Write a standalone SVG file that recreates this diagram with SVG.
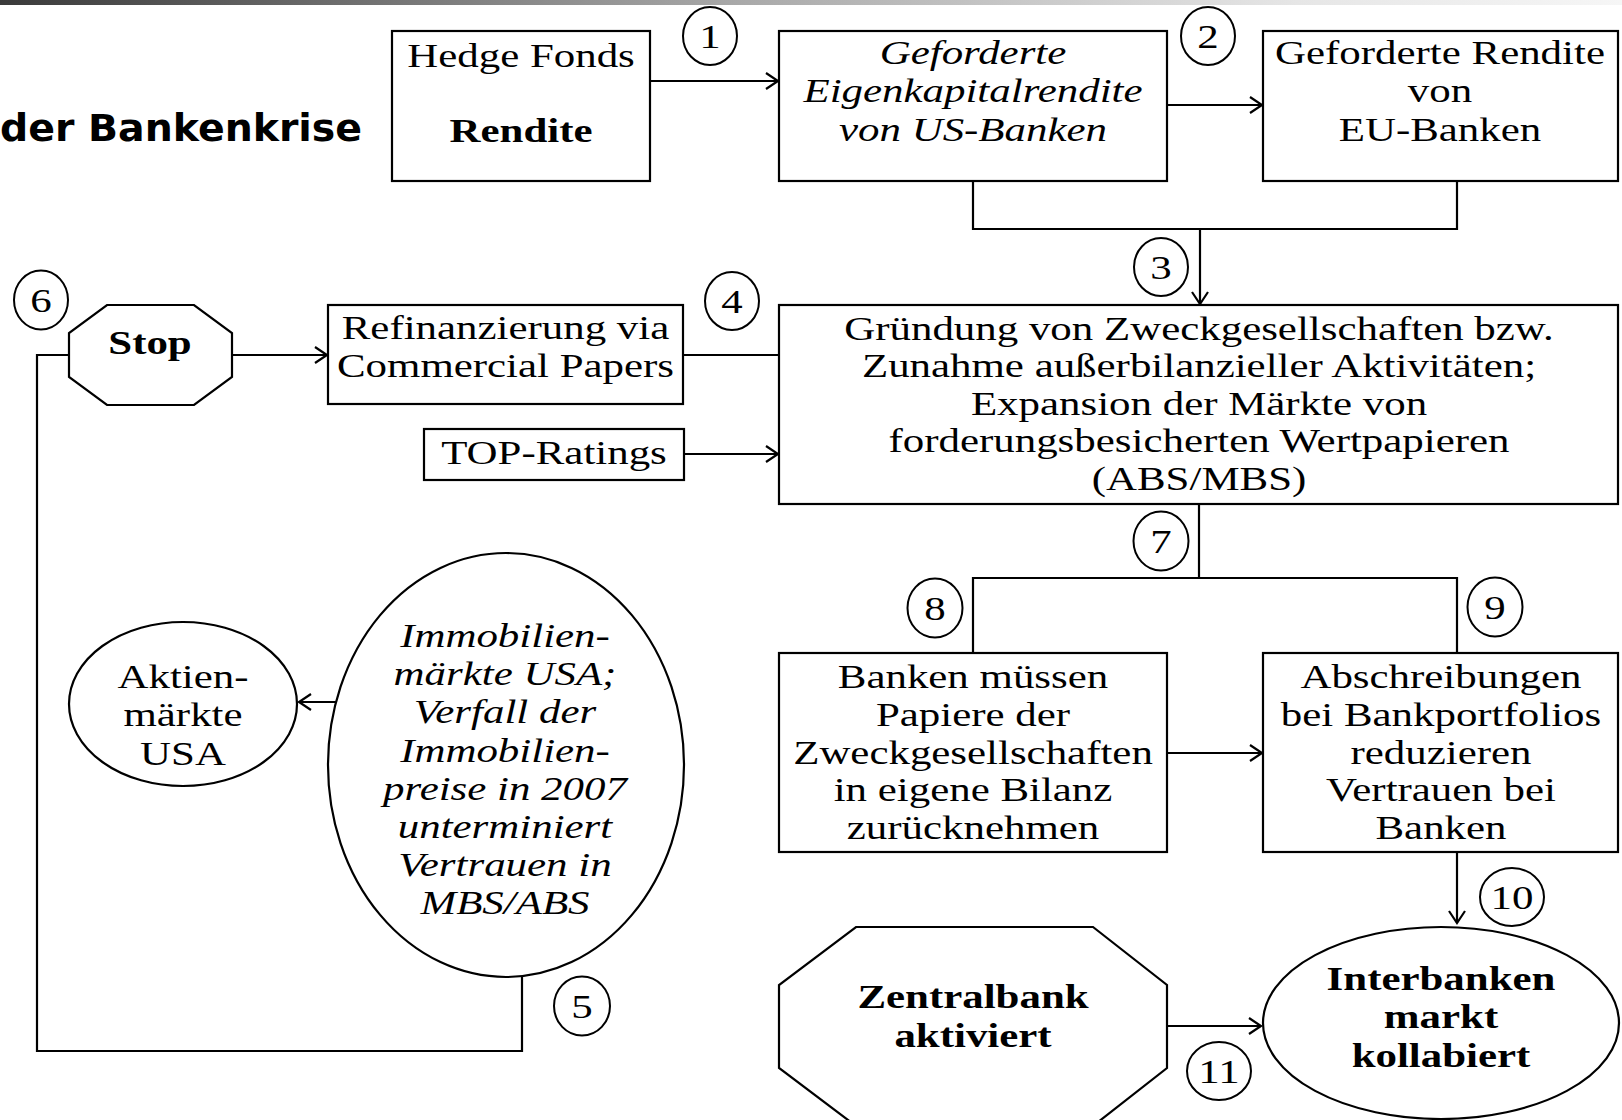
<svg xmlns="http://www.w3.org/2000/svg" width="1622" height="1120" viewBox="0 0 1622 1120">
  <defs>
    <linearGradient id="barGrad" x1="0" y1="0" x2="1" y2="0">
      <stop offset="0" stop-color="#3a3a3a"/>
      <stop offset="0.45" stop-color="#a8a8a8"/>
      <stop offset="0.8" stop-color="#e6e6e6"/>
      <stop offset="1" stop-color="#f6f6f6"/>
    </linearGradient>
    <marker id="arrow" markerUnits="userSpaceOnUse" markerWidth="16" markerHeight="18" refX="13" refY="9" orient="auto">
      <path d="M1,1 L13,9 L1,17" fill="none" stroke="#000" stroke-width="2.2"/>
    </marker>
  </defs>
  <style>
    .box { fill: #fff; stroke: #000; stroke-width: 2.2; }
    .num { fill: #fff; stroke: #000; stroke-width: 2; }
    .link { fill: none; stroke: #000; stroke-width: 2.2; }
    .t { font-family: "Liberation Serif", "Times New Roman", serif; font-size: 33px; fill: #000; text-anchor: middle; }
    .i { font-style: italic; }
    .b { font-weight: bold; }
    .title { font-family: "DejaVu Sans", Verdana, sans-serif; font-weight: bold; font-size: 37px; fill: #000; }
  </style>

  <rect x="0" y="0" width="1622" height="5" fill="url(#barGrad)"/>
  <text class="title" x="0" y="141" textLength="362" lengthAdjust="spacingAndGlyphs">der Bankenkrise</text>

  <!-- connectors -->
  <g id="connectors">
    <line class="link" x1="650" y1="81" x2="778" y2="81" marker-end="url(#arrow)"/>
    <line class="link" x1="1167" y1="105" x2="1262" y2="105" marker-end="url(#arrow)"/>
    <polyline class="link" points="973,181 973,229 1457,229 1457,181"/>
    <line class="link" x1="1200" y1="229" x2="1200" y2="304" marker-end="url(#arrow)"/>
    <line class="link" x1="232" y1="355" x2="327" y2="355" marker-end="url(#arrow)"/>
    <line class="link" x1="683" y1="355" x2="779" y2="355"/>
    <line class="link" x1="684" y1="454" x2="778" y2="454" marker-end="url(#arrow)"/>
    <polyline class="link" points="1199,504 1199,578"/>
    <polyline class="link" points="973,653 973,578 1457,578 1457,653"/>
    <line class="link" x1="1167" y1="753" x2="1262" y2="753" marker-end="url(#arrow)"/>
    <line class="link" x1="1457" y1="852" x2="1457" y2="923" marker-end="url(#arrow)"/>
    <line class="link" x1="1167" y1="1026" x2="1261" y2="1026" marker-end="url(#arrow)"/>
    <line class="link" x1="337" y1="702" x2="299" y2="702" marker-end="url(#arrow)"/>
    <polyline class="link" points="522,977 522,1051 37,1051 37,355 69,355"/>
  </g>

  <!-- nodes -->
  <g id="hedge-fonds">
    <rect class="box" x="392" y="31" width="258" height="150"/>
    <text class="t" transform="translate(521 67) scale(1.3 1)">Hedge Fonds</text>
    <text class="t b" transform="translate(521 142) scale(1.3 1)">Rendite</text>
  </g>

  <g id="us-banken">
    <rect class="box" x="779" y="31" width="388" height="150"/>
    <text class="t i" transform="translate(973 64) scale(1.3 1)"><tspan x="0" y="0">Geforderte</tspan><tspan x="0" dy="38.5">Eigenkapitalrendite</tspan><tspan x="0" dy="38.5">von US-Banken</tspan></text>
  </g>

  <g id="eu-banken">
    <rect class="box" x="1263" y="31" width="355" height="150"/>
    <text class="t" transform="translate(1440 64) scale(1.3 1)"><tspan x="0" y="0">Geforderte Rendite</tspan><tspan x="0" dy="38.5">von</tspan><tspan x="0" dy="38.5">EU-Banken</tspan></text>
  </g>

  <g id="zweckgesellschaften">
    <rect class="box" x="779" y="305" width="839" height="199"/>
    <text class="t" transform="translate(1199 340) scale(1.3 1)"><tspan x="0" y="0">Gründung von Zweckgesellschaften bzw.</tspan><tspan x="0" dy="37.5">Zunahme außerbilanzieller Aktivitäten;</tspan><tspan x="0" dy="37.5">Expansion der Märkte von</tspan><tspan x="0" dy="37.5">forderungsbesicherten Wertpapieren</tspan><tspan x="0" dy="37.5">(ABS/MBS)</tspan></text>
  </g>

  <g id="refinanzierung">
    <rect class="box" x="328" y="305" width="355" height="99"/>
    <text class="t" transform="translate(505.5 339) scale(1.3 1)"><tspan x="0" y="0">Refinanzierung via</tspan><tspan x="0" dy="38.5">Commercial Papers</tspan></text>
  </g>

  <g id="top-ratings">
    <rect class="box" x="424" y="429" width="260" height="51"/>
    <text class="t" transform="translate(554 464) scale(1.3 1)">TOP-Ratings</text>
  </g>

  <g id="stop">
    <polygon class="box" points="107,305 194,305 232,333 232,377 194,405 107,405 69,377 69,333"/>
    <text class="t b" transform="translate(150 354) scale(1.3 1)">Stop</text>
  </g>

  <g id="aktienmaerkte">
    <ellipse class="box" cx="183" cy="704" rx="114" ry="82"/>
    <text class="t" transform="translate(183 688) scale(1.3 1)"><tspan x="0" y="0">Aktien-</tspan><tspan x="0" dy="38.5">märkte</tspan><tspan x="0" dy="38.5">USA</tspan></text>
  </g>

  <g id="immobilienmaerkte">
    <ellipse class="box" cx="506" cy="765" rx="178" ry="212"/>
    <text class="t i" transform="translate(505 647) scale(1.3 1)"><tspan x="0" y="0">Immobilien-</tspan><tspan x="0" dy="38.2">märkte USA;</tspan><tspan x="0" dy="38.2">Verfall der</tspan><tspan x="0" dy="38.2">Immobilien-</tspan><tspan x="0" dy="38.2">preise in 2007</tspan><tspan x="0" dy="38.2">unterminiert</tspan><tspan x="0" dy="38.2">Vertrauen in</tspan><tspan x="0" dy="38.2">MBS/ABS</tspan></text>
  </g>

  <g id="bilanz">
    <rect class="box" x="779" y="653" width="388" height="199"/>
    <text class="t" transform="translate(973 688) scale(1.3 1)"><tspan x="0" y="0">Banken müssen</tspan><tspan x="0" dy="37.8">Papiere der</tspan><tspan x="0" dy="37.8">Zweckgesellschaften</tspan><tspan x="0" dy="37.8">in eigene Bilanz</tspan><tspan x="0" dy="37.8">zurücknehmen</tspan></text>
  </g>

  <g id="abschreibungen">
    <rect class="box" x="1263" y="653" width="355" height="199"/>
    <text class="t" transform="translate(1441 688) scale(1.3 1)"><tspan x="0" y="0">Abschreibungen</tspan><tspan x="0" dy="37.8">bei Bankportfolios</tspan><tspan x="0" dy="37.8">reduzieren</tspan><tspan x="0" dy="37.8">Vertrauen bei</tspan><tspan x="0" dy="37.8">Banken</tspan></text>
  </g>

  <g id="zentralbank">
    <polygon class="box" points="856,927 1093,927 1167,985 1167,1068 1093,1126 856,1126 779,1068 779,985"/>
    <text class="t b" transform="translate(973 1008) scale(1.3 1)"><tspan x="0" y="0">Zentralbank</tspan><tspan x="0" dy="39">aktiviert</tspan></text>
  </g>

  <g id="interbankenmarkt">
    <ellipse class="box" cx="1441" cy="1023" rx="178" ry="96"/>
    <text class="t b" transform="translate(1441 990) scale(1.3 1)"><tspan x="0" y="0">Interbanken</tspan><tspan x="0" dy="38.5">markt</tspan><tspan x="0" dy="38.5">kollabiert</tspan></text>
  </g>

  <!-- step numbers -->
  <g id="step-1"><ellipse class="num" cx="710" cy="36" rx="27" ry="29"/><text class="t" transform="translate(710 47.5) scale(1.3 1)">1</text></g>
  <g id="step-2"><ellipse class="num" cx="1208" cy="36" rx="27" ry="29"/><text class="t" transform="translate(1208 47.5) scale(1.3 1)">2</text></g>
  <g id="step-3"><ellipse class="num" cx="1161" cy="267" rx="27" ry="29"/><text class="t" transform="translate(1161 278.5) scale(1.3 1)">3</text></g>
  <g id="step-4"><ellipse class="num" cx="732" cy="301" rx="27" ry="29"/><text class="t" transform="translate(732 312.5) scale(1.3 1)">4</text></g>
  <g id="step-5"><ellipse class="num" cx="582" cy="1006" rx="28" ry="29.5"/><text class="t" transform="translate(582 1017.5) scale(1.3 1)">5</text></g>
  <g id="step-6"><ellipse class="num" cx="41" cy="300" rx="27" ry="29.5"/><text class="t" transform="translate(41 311.5) scale(1.3 1)">6</text></g>
  <g id="step-7"><ellipse class="num" cx="1161" cy="541" rx="27.5" ry="29.5"/><text class="t" transform="translate(1161 552.5) scale(1.3 1)">7</text></g>
  <g id="step-8"><ellipse class="num" cx="935" cy="608" rx="27.5" ry="29.5"/><text class="t" transform="translate(935 619.5) scale(1.3 1)">8</text></g>
  <g id="step-9"><ellipse class="num" cx="1495" cy="607" rx="27.5" ry="29.5"/><text class="t" transform="translate(1495 618.5) scale(1.3 1)">9</text></g>
  <g id="step-10"><ellipse class="num" cx="1512" cy="897" rx="32" ry="29"/><text class="t" transform="translate(1512 908.5) scale(1.3 1)">10</text></g>
  <g id="step-11"><ellipse class="num" cx="1219" cy="1071" rx="32" ry="29"/><text class="t" transform="translate(1219 1082.5) scale(1.3 1)">11</text></g>
</svg>
